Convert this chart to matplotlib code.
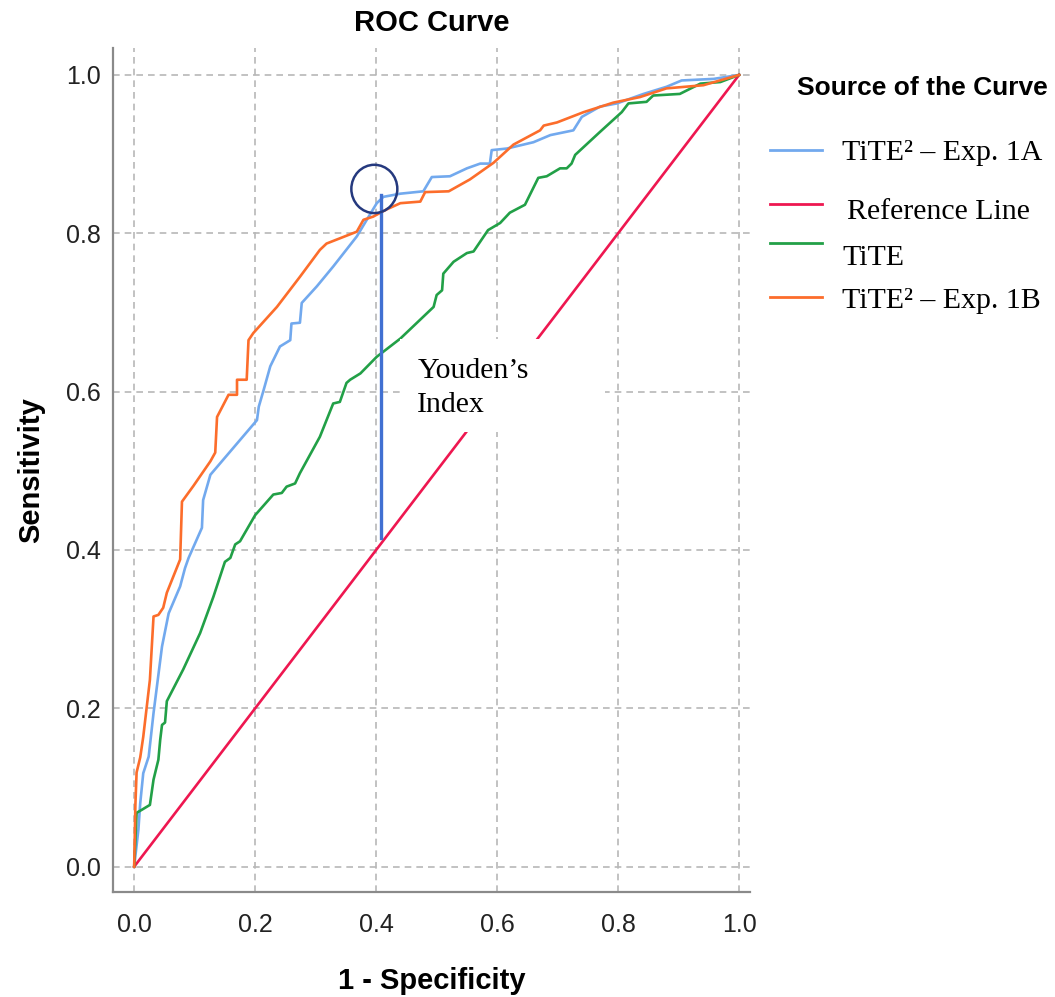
import matplotlib
matplotlib.use("Agg")
import matplotlib.pyplot as plt
from matplotlib.lines import Line2D
from matplotlib.patches import Ellipse, Rectangle

# ROC curves (1 - specificity, sensitivity)
exp1a_fpr = [0, 0.007, 0.010, 0.015, 0.024, 0.032, 0.046, 0.057, 0.076, 0.084, 0.090,
             0.112, 0.114, 0.126, 0.203, 0.206, 0.214, 0.225, 0.241, 0.258, 0.260,
             0.274, 0.277, 0.302, 0.329, 0.368, 0.401, 0.412, 0.440, 0.478, 0.492,
             0.522, 0.550, 0.572, 0.588, 0.591, 0.616, 0.660, 0.688, 0.726, 0.740,
             0.770, 0.798, 0.842, 0.880, 0.905, 0.958, 1.0]
exp1a_tpr = [0, 0.047, 0.080, 0.118, 0.139, 0.194, 0.278, 0.320, 0.354, 0.377, 0.390,
             0.428, 0.463, 0.495, 0.564, 0.581, 0.602, 0.632, 0.657, 0.665, 0.686,
             0.687, 0.712, 0.733, 0.758, 0.796, 0.838, 0.846, 0.850, 0.853, 0.871,
             0.872, 0.882, 0.888, 0.888, 0.905, 0.907, 0.915, 0.924, 0.930, 0.947,
             0.960, 0.964, 0.976, 0.985, 0.993, 0.995, 1.0]

tite_fpr = [0, 0.004, 0.013, 0.026, 0.032, 0.040, 0.043, 0.046, 0.051, 0.054, 0.081,
            0.109, 0.131, 0.150, 0.159, 0.167, 0.175, 0.200, 0.230, 0.244, 0.252,
            0.266, 0.274, 0.307, 0.329, 0.340, 0.351, 0.357, 0.374, 0.401, 0.440,
            0.495, 0.500, 0.509, 0.511, 0.528, 0.550, 0.561, 0.585, 0.605, 0.621,
            0.646, 0.668, 0.682, 0.704, 0.715, 0.723, 0.729, 0.770, 0.806, 0.817,
            0.847, 0.858, 0.902, 0.936, 0.969, 1.0]
tite_tpr = [0, 0.068, 0.072, 0.078, 0.110, 0.135, 0.160, 0.179, 0.182, 0.209, 0.249,
            0.295, 0.341, 0.385, 0.390, 0.407, 0.411, 0.444, 0.470, 0.472, 0.480,
            0.484, 0.497, 0.543, 0.585, 0.587, 0.611, 0.615, 0.623, 0.644, 0.667,
            0.707, 0.722, 0.728, 0.749, 0.764, 0.775, 0.777, 0.804, 0.813, 0.826,
            0.836, 0.870, 0.872, 0.882, 0.882, 0.888, 0.899, 0.928, 0.953, 0.964,
            0.966, 0.974, 0.976, 0.989, 0.991, 1.0]

exp1b_fpr = [0, 0.002, 0.004, 0.010, 0.015, 0.026, 0.032, 0.040, 0.048, 0.054, 0.076,
             0.079, 0.098, 0.126, 0.134, 0.137, 0.156, 0.170, 0.170, 0.186, 0.189,
             0.197, 0.236, 0.274, 0.307, 0.318, 0.368, 0.379, 0.395, 0.417, 0.440,
             0.473, 0.481, 0.520, 0.555, 0.594, 0.627, 0.671, 0.677, 0.699, 0.743,
             0.792, 0.836, 0.880, 0.941, 1.0]
exp1b_tpr = [0, 0.078, 0.119, 0.138, 0.164, 0.236, 0.316, 0.318, 0.327, 0.346, 0.388,
             0.461, 0.481, 0.512, 0.523, 0.568, 0.596, 0.596, 0.615, 0.615, 0.665,
             0.674, 0.707, 0.745, 0.779, 0.787, 0.802, 0.817, 0.821, 0.830, 0.838,
             0.840, 0.852, 0.853, 0.868, 0.889, 0.912, 0.930, 0.936, 0.940, 0.953,
             0.965, 0.972, 0.983, 0.987, 1.0]

ref_line = [0, 1]

youden_x = 0.408
youden_y = [0.415, 0.848]

ticks = [0.0, 0.2, 0.4, 0.6, 0.8, 1.0]
tick_labels = ["0.0", "0.2", "0.4", "0.6", "0.8", "1.0"]

legend_labels = ["TiTE² – Exp. 1A", "Reference Line", "TiTE", "TiTE² – Exp. 1B"]
c_blue = "#72A9EE"
c_red = "#EE1750"
c_green = "#22A047"
c_orange = "#FC6D2B"
legend_colors = [c_blue, c_red, c_green, c_orange]

sans = ["Liberation Sans", "DejaVu Sans"]
serif = ["Liberation Serif", "DejaVu Serif"]

fig = plt.figure(figsize=(10.55, 9.97), dpi=100)
ax = fig.add_axes([113 / 1055, 1 - 892 / 997, (750 - 113) / 1055, (892 - 48) / 997])

ax.plot(exp1a_fpr, exp1a_tpr, color=c_blue, lw=1.9, zorder=3)
ax.plot(ref_line, ref_line, color=c_red, lw=1.9, zorder=3)
ax.plot(tite_fpr, tite_tpr, color=c_green, lw=1.9, zorder=3)
ax.plot(exp1b_fpr, exp1b_tpr, color=c_orange, lw=1.9, zorder=3)

# Youden's index marker
ax.plot([youden_x, youden_x], youden_y, color="#4170D2", lw=2.4, zorder=5)
ax.add_patch(Ellipse((0.397, 0.856), 0.076, 0.061, fill=False,
                     edgecolor="#25397E", lw=1.8, zorder=6))

# white box behind the text
ax.add_patch(Rectangle((0.44, 0.549), 0.338, 0.118, facecolor="white",
                       edgecolor="none", zorder=4))
ax.text(0.468, 0.643, "Youden’s\nIndex", family=serif, fontsize=21.5,
        va="top", ha="left", linespacing=1.42, zorder=7)

ax.set_xlim(-0.035, 1.018)
ax.set_ylim(-0.032, 1.034)
ax.set_xticks(ticks)
ax.set_xticklabels(tick_labels)
ax.set_yticks(ticks)
ax.set_yticklabels(tick_labels)
ax.tick_params(length=0, labelsize=18)
ax.tick_params(axis="x", pad=15)
ax.tick_params(axis="y", pad=9)
for lab in ax.get_xticklabels() + ax.get_yticklabels():
    lab.set_family(sans)
    lab.set_color("#222222")

ax.grid(True, color="#B8B8B8", lw=1.2, ls=(0, (4, 3)), zorder=1)
ax.set_axisbelow(True)
for s in ["top", "right"]:
    ax.spines[s].set_visible(False)
for s in ["left", "bottom"]:
    ax.spines[s].set_color("#8A8A8A")
    ax.spines[s].set_linewidth(1.6)

ax.set_title("ROC Curve", family=sans, fontsize=21, fontweight="bold", pad=12)
ax.set_xlabel("1 - Specificity", family=sans, fontsize=21, fontweight="bold", labelpad=22)
ax.set_ylabel("Sensitivity", family=sans, fontsize=21, fontweight="bold", labelpad=15)

# legend drawn by hand to match the pasted layout
fig.text(797 / 1055, 1 - 88 / 997, "Source of the Curve", family=sans,
         fontsize=19, fontweight="bold", va="center", ha="left")
line_y = [150, 204, 243, 297]
text_pos = [(842, 153), (847, 212), (842, 258), (842, 301)]
for lab, col, ly, (tx, ty) in zip(legend_labels, legend_colors, line_y, text_pos):
    fig.add_artist(Line2D([770 / 1055, 822 / 1055], [1 - ly / 997, 1 - ly / 997],
                          color=col, lw=2.0))
    fig.text(tx / 1055, 1 - ty / 997, lab, family=serif, fontsize=21.5,
             va="center", ha="left")

fig.savefig("out.png", dpi=100)
